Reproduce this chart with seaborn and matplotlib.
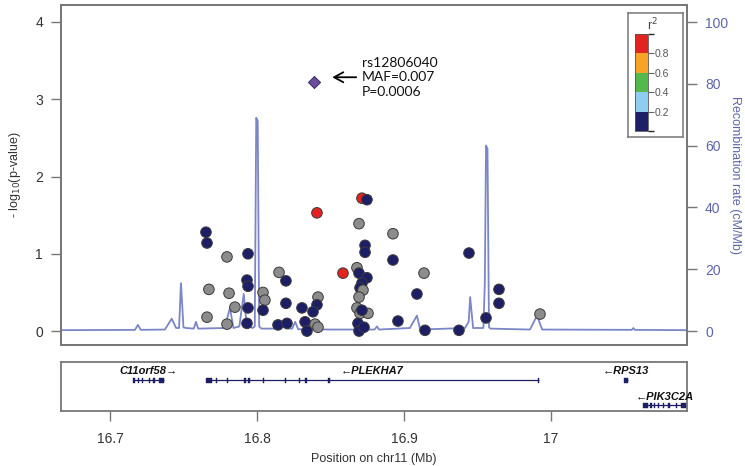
import matplotlib
matplotlib.use("Agg")
import matplotlib.pyplot as plt
import matplotlib as mpl
import seaborn as sns
import numpy as np
import pandas as pd
from matplotlib.colors import ListedColormap, BoundaryNorm

# ---------------- data ----------------
snp_pos = [16.7653, 16.7660, 16.7796, 16.7939, 16.8408, 16.8714, 16.8748, 16.8694,
           16.8925, 16.8735, 16.8735, 16.8925, 16.8150, 16.8197, 16.8585, 16.8680,
           16.8694, 16.8748, 16.8714, 16.8701, 16.8721, 16.9136, 16.9088, 16.8694,
           16.7932, 16.7939, 16.7673, 16.7810, 16.8041, 16.8054, 16.7850, 16.7939,
           16.8041, 16.8197, 16.8306, 16.8415, 16.8408, 16.8381, 16.8680, 16.8701,
           16.8755, 16.7660, 16.7796, 16.7932, 16.8143, 16.8204, 16.8327, 16.8340,
           16.8395, 16.8415, 16.8687, 16.8694, 16.8959, 16.9143, 16.9374, 16.9442,
           16.9558, 16.9646, 16.9646, 16.9925, 16.8714, 16.8728]
snp_logp = [1.28, 1.14, 0.96, 1.00, 1.53, 1.72, 1.70, 1.39,
            1.26, 1.11, 1.02, 0.92, 0.76, 0.65, 0.75, 0.82,
            0.75, 0.69, 0.62, 0.56, 0.53, 0.75, 0.48, 0.44,
            0.66, 0.58, 0.54, 0.49, 0.50, 0.40, 0.31, 0.30,
            0.27, 0.36, 0.30, 0.44, 0.34, 0.25, 0.30, 0.23,
            0.23, 0.18, 0.09, 0.10, 0.08, 0.10, 0.12, 0.00,
            0.09, 0.05, 0.10, 0.00, 0.13, 0.01, 0.01, 1.01,
            0.17, 0.54, 0.36, 0.22, 0.27, 0.05]
snp_ld = ["low", "low", "none", "low", "high", "high", "low", "none",
          "none", "low", "low", "low", "none", "low", "high", "none",
          "low", "low", "low", "low", "none", "none", "low", "none",
          "low", "low", "none", "none", "none", "none", "none", "low",
          "low", "low", "low", "none", "low", "low", "none", "none",
          "none", "none", "none", "low", "low", "low", "low", "low",
          "none", "none", "low", "low", "low", "low", "low", "low",
          "low", "low", "low", "none", "low", "low"]

lead_name = "rs12806040"
lead_maf = "0.007"
lead_p = "0.0006"
lead_pos = 16.839
lead_logp = 3.22

recomb_pos = [16.6667, 16.7170, 16.7190, 16.7210, 16.7374, 16.7420, 16.7450, 16.7470,
              16.7483, 16.7500, 16.7517, 16.7570, 16.7585, 16.7600, 16.7780, 16.7816,
              16.7840, 16.7880, 16.7910, 16.7930, 16.7970, 16.7985, 16.7995, 16.8005,
              16.8015, 16.8030, 16.8160, 16.8180, 16.8200, 16.8240, 16.8260, 16.8280,
              16.8500, 16.8800, 16.8816, 16.8830, 16.9040, 16.9088, 16.9110, 16.9415,
              16.9440, 16.9450, 16.9470, 16.9540, 16.9550, 16.9558, 16.9568, 16.9578,
              16.9590, 16.9857, 16.9905, 16.9940, 17.0550, 17.0560, 17.0570, 17.0925]
recomb_rate = [0.3, 0.4, 2.0, 0.4, 0.5, 4.0, 1.0, 1.0,
               15.5, 1.2, 1.0, 0.8, 3.0, 0.8, 1.0, 7.5,
               1.0, 1.5, 12.0, 2.0, 1.0, 1.5, 69.0, 68.0,
               1.5, 0.8, 0.8, 2.5, 0.8, 0.8, 3.0, 0.6,
               0.5, 0.5, 1.5, 0.5, 1.0, 5.0, 0.5, 1.0,
               3.0, 11.0, 1.0, 1.0, 16.0, 60.0, 59.0, 1.2,
               0.8, 0.5, 5.0, 0.5, 0.4, 1.0, 0.4, 0.3]

gene_names = ["C11orf58", "PLEKHA7", "RPS13", "PIK3C2A"]
gene_start = [16.7163, 16.7652, 17.0497, 17.0626]
gene_end = [16.7367, 16.9918, 17.0524, 17.1200]
gene_strand = ["+", "-", "-", "-"]
gene_row = [1, 1, 1, 2]
gene_exons = [
    [(16.7160, 16.7170), (16.7192, 16.7200), (16.7220, 16.7228), (16.7264, 16.7272),
     (16.7296, 16.7304), (16.7335, 16.7367)],
    [(16.7652, 16.7696), (16.7720, 16.7728), (16.7794, 16.7802), (16.7915, 16.7925),
     (16.7942, 16.7952), (16.8042, 16.8050), (16.8190, 16.8198), (16.8285, 16.8293),
     (16.8329, 16.8337), (16.8486, 16.8494), (16.9912, 16.9920)],
    [(17.0497, 17.0524)],
    [(17.0626, 17.0660), (17.0675, 17.0685), (17.0700, 17.0708), (17.0728, 17.0736),
     (17.0760, 17.0768), (17.0798, 17.0806), (17.0850, 17.0858), (17.0885, 17.0930)],
]

x_ticks = [16.7, 16.8, 16.9, 17.0]
x_ticklabels = ["16.7", "16.8", "16.9", "17"]
y_ticks = [0, 1, 2, 3, 4]
r_ticks = [0, 20, 40, 60, 80, 100]
ld_bounds = [0.0, 0.2, 0.4, 0.6, 0.8, 1.0]
ld_colors = ["#1d1f66", "#8fcdf0", "#55b84c", "#f7a325", "#e3231f"]
ld_ticks = [0.2, 0.4, 0.6, 0.8]

# ---------------- style ----------------
sns.set_theme(style="white")
plt.rcParams["font.family"] = ["Liberation Sans", "DejaVu Sans"]

W, H = 745, 466
fig = plt.figure(figsize=(W / 100, H / 100), dpi=100)

def box(l, t, r, b):
    return [l / W, 1 - b / H, (r - l) / W, (b - t) / H]

FRAME = "#777777"
BLUE = "#5c66aa"
LINE = "#7b86c6"
NAVY = "#1d1f66"

ax = fig.add_axes(box(61, 5, 687, 345))
ax2 = ax.twinx()
xlim = (16.6667, 17.0925)
ylim = (-0.18, 4.22)

# recombination line
rdf = pd.DataFrame({"pos": recomb_pos, "rate": recomb_rate})
sns.lineplot(data=rdf, x="pos", y="rate", ax=ax2, color=LINE, lw=1.3,
             estimator=None, sort=False)
ax2.set_ylim(ylim[0] * 25, ylim[1] * 25)
ax2.set_yticks(r_ticks)
ax2.tick_params(axis="y", length=7, width=1.0, color=FRAME, labelsize=10,
                labelcolor=BLUE, pad=6, right=True)
ax2.set_ylabel("Recombination rate (cM/Mb)", color=BLUE, fontsize=9,
               rotation=270, labelpad=9)
ax2.set_xlabel("")

ax.set_zorder(ax2.get_zorder() + 1)
ax.patch.set_visible(False)

# SNPs
df = pd.DataFrame({"pos": snp_pos, "logp": snp_logp, "ld": snp_ld})
pal = {"low": NAVY, "none": "#8c8c8c", "high": "#e3231f"}
sns.scatterplot(data=df, x="pos", y="logp", hue="ld", palette=pal, s=58,
                edgecolor="#3a3a3a", linewidth=0.7, legend=False, ax=ax, zorder=3)
lead = pd.DataFrame({"pos": [lead_pos], "logp": [lead_logp]})
sns.scatterplot(data=lead, x="pos", y="logp", marker="D", s=38, color="#6c4c9e",
                edgecolor="#3c2a60", linewidth=0.7, legend=False, ax=ax, zorder=4)

ax.annotate("", xy=(lead_pos + 0.0122, lead_logp + 0.065),
            xytext=(lead_pos + 0.0285, lead_logp + 0.065),
            arrowprops=dict(arrowstyle="->,head_length=0.55,head_width=0.3",
                            lw=1.3, color="black", shrinkA=0, shrinkB=0))
ax.text(lead_pos + 0.0325, lead_logp + 0.065,
        f"{lead_name}\nMAF={lead_maf}\nP={lead_p}", ha="left", va="center",
        fontsize=10, family=["Lato", "DejaVu Sans"], linespacing=1.25, color="#111111")

ax.set_xlim(*xlim)
ax.set_ylim(*ylim)
ax.set_xticks([])
ax.set_yticks(y_ticks)
ax.tick_params(axis="y", length=7, width=1.0, color=FRAME, labelsize=10,
               labelcolor="#333333", pad=6, left=True)
ax.set_ylabel(r"- log$_{10}$(p-value)", fontsize=9, color="#333333", labelpad=9)
ax.set_xlabel("")
for a in (ax, ax2):
    for s in a.spines.values():
        s.set_color(FRAME)
        s.set_linewidth(1.3)

# legend (r^2 colour key)
lax = fig.add_axes(box(628, 13, 683, 137))
lax.set_xticks([]); lax.set_yticks([])
lax.patch.set_facecolor("white")
for s in lax.spines.values():
    s.set_color(FRAME); s.set_linewidth(1.1)
lax.text(0.45, 0.905, r"r$^2$", transform=lax.transAxes, ha="center", va="center",
         fontsize=9, color="#444444")
cax = fig.add_axes(box(635, 34, 648, 131))
cmap = ListedColormap(ld_colors)
norm = BoundaryNorm(ld_bounds, cmap.N)
cb = mpl.colorbar.ColorbarBase(cax, cmap=cmap, norm=norm, orientation="vertical",
                               ticks=ld_ticks)
cb.outline.set_edgecolor("#555555")
cb.outline.set_linewidth(0.6)
cax.tick_params(length=4, width=0.8, color="#666666", labelsize=7.5,
                labelcolor="#555555", pad=1)

# gene track
gax = fig.add_axes(box(61, 362, 687, 411))
gax.set_xlim(*xlim)
gax.set_ylim(0, 49)
row_exon_y = {1: 31, 2: 6}
row_label_y = {1: 40, 2: 14.5}
for name, st, en, strand, row, exons in zip(gene_names, gene_start, gene_end,
                                            gene_strand, gene_row, gene_exons):
    yy = row_exon_y[row]
    gax.hlines(yy, st, en, color=NAVY, lw=0.9)
    gax.bar([(a + b) / 2 for a, b in exons], 5, width=[b - a for a, b in exons],
            bottom=yy - 2.5, color=NAVY, edgecolor=NAVY, linewidth=0.3)
    vis_st, vis_en = max(st, xlim[0]), min(en, xlim[1])
    label = f"{name}\u2192" if strand == "+" else f"\u2190{name}"
    gax.text((vis_st + vis_en) / 2, row_label_y[row], label, ha="center",
             va="center", fontsize=8, style="italic", weight="bold",
             color="#111111", family=["Liberation Sans", "DejaVu Sans"])
gax.set_yticks([])
gax.set_xticks(x_ticks)
gax.set_xticklabels(x_ticklabels)
gax.tick_params(axis="x", length=7, width=1.0, color=FRAME, labelsize=10,
                labelcolor="#333333", pad=8, bottom=True)
gax.set_xlabel("Position on chr11 (Mb)", fontsize=9, color="#333333", labelpad=5)
for s in gax.spines.values():
    s.set_color(FRAME)
    s.set_linewidth(1.3)

fig.savefig("out.png", dpi=100)
